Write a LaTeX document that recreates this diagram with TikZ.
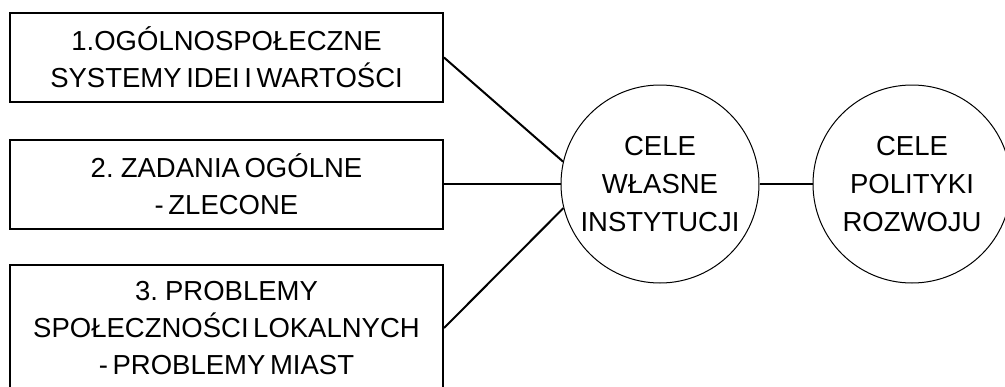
\documentclass[tikz,border=0pt]{standalone}
\usepackage{fontspec}
\setmainfont{Liberation Sans}[WordSpace=0.6]
\tikzset{
  box/.style={draw, line width=2pt, minimum width=433pt, inner sep=0pt, align=center, font=\fontsize{27.5}{37}\selectfont},
  goal/.style={draw, circle, line width=1pt, minimum size=198pt, inner sep=0pt, align=center, font=\fontsize{27.5}{38}\selectfont},
  link/.style={line width=2pt}
}
\begin{document}
\begin{tikzpicture}[x=1pt,y=-1pt]
\useasboundingbox (0,0) rectangle (1005,386);
\clip (0,0) rectangle (1005,386);
\node[box, minimum height=89pt] (b1) at (226.5,57.5) {1.OGÓLNOSPOŁECZNE\\SYSTEMY IDEI I WARTOŚCI};
\node[box, minimum height=89pt] (b2) at (226.5,184) {2. ZADANIA OGÓLNE\\- ZLECONE};
\node[box, minimum height=126pt] (b3) at (226.5,328) {3. PROBLEMY\\SPOŁECZNOŚCI LOKALNYCH\\- PROBLEMY MIAST};
\node[goal] (c1) at (660,184) {CELE\\WŁASNE\\INSTYTUCJI};
\node[goal] (c2) at (912,184) {CELE\\POLITYKI\\ROZWOJU};
\draw[link] (b1.east) -- (c1.167.5);
\draw[link] (b2.east) -- (c1.west);
\draw[link] (b3.east) -- (c1.194.7);
\draw[link] (c1.east) -- (c2.west);
\end{tikzpicture}
\end{document}
